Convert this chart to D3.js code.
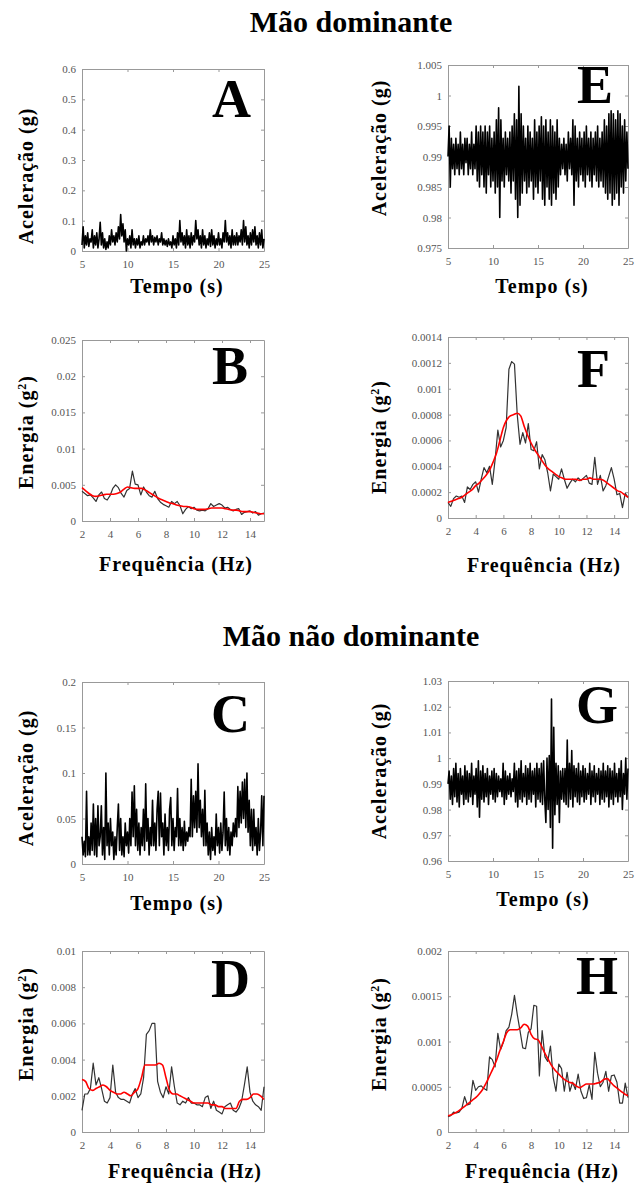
<!DOCTYPE html>
<html>
<head>
<meta charset="utf-8">
<script src="https://cdnjs.cloudflare.com/ajax/libs/d3/7.8.5/d3.min.js"></script>
<style>
  body { margin: 0; background: #fff; }
  text { font-family: "Liberation Serif", "Times New Roman", serif; }
  .tick text { font-size: 11px; fill: #555; }
  .tick line, .domain { stroke: #999; }
  .lab { font-weight: bold; font-size: 20px; letter-spacing: 1px; fill: #000; }
  .big { font-weight: bold; font-size: 54px; fill: #000; }
  .title { font-weight: bold; font-size: 30px; fill: #000; }
</style>
</head>
<body>
<svg id="chart" width="635" height="1184"></svg>
<script>
"use strict";

// sampling grids (seconds / Hz)
var timeStart = 5, timeStep = 0.125;
var rawFreqStep = 0.2, smoothFreqStep = 0.25;

var timeTicks = [5, 10, 15, 20, 25];
var freqTicks = [2, 4, 6, 8, 10, 12, 14];

var ticksA = [0, 0.1, 0.2, 0.3, 0.4, 0.5, 0.6];
var ticksE = [0.975, 0.98, 0.985, 0.99, 0.995, 1, 1.005];
var ticksB = [0, 0.005, 0.01, 0.015, 0.02, 0.025];
var ticksF = [0, 0.0002, 0.0004, 0.0006, 0.0008, 0.001, 0.0012, 0.0014];
var ticksC = [0, 0.05, 0.1, 0.15, 0.2];
var ticksG = [0.96, 0.97, 0.98, 0.99, 1, 1.01, 1.02, 1.03];
var ticksD = [0, 0.002, 0.004, 0.006, 0.008, 0.01];
var ticksH = [0, 0.0005, 0.001, 0.0015, 0.002];

// acceleration, dominant hand
var accelA = [
  0.02,0.08,0.01,0.05,0.02,0.06,0.015,0.04,
  0.03,0.07,0.01,0.05,0.02,0.06,0.01,0.04,
  0.095,0.02,0.06,0.01,0.04,0.005,0.03,0.01,
  0.05,0.02,0.07,0.03,0.05,0.02,0.06,0.03,
  0.08,0.04,0.12,0.05,0.09,0.03,0.07,0.0,
  0.04,0.02,0.05,0.01,0.07,0.02,0.04,0.01,
  0.04,0.02,0.05,0.01,0.03,0.02,0.05,0.02,
  0.04,0.03,0.05,0.02,0.07,0.03,0.05,0.02,
  0.045,0.03,0.05,0.02,0.04,0.03,0.06,0.02,
  0.04,0.02,0.035,0.015,0.04,0.02,0.03,0.01,
  0.05,0.02,0.04,0.01,0.06,0.02,0.1,0.03,
  0.06,0.02,0.05,0.01,0.07,0.02,0.05,0.01,
  0.06,0.02,0.05,0.03,0.1,0.04,0.07,0.02,
  0.05,0.01,0.07,0.02,0.05,0.01,0.04,0.02,
  0.06,0.015,0.07,0.02,0.05,0.01,0.04,0.02,
  0.06,0.02,0.04,0.01,0.06,0.03,0.1,0.03,
  0.06,0.02,0.05,0.01,0.07,0.02,0.05,0.02,
  0.06,0.02,0.05,0.03,0.07,0.02,0.1,0.03,
  0.08,0.02,0.05,0.01,0.06,0.02,0.07,0.03,
  0.08,0.02,0.05,0.01,0.06,0.02,0.07,0.01,
  0.04
];

var accelE = [
  0.990,0.995,0.985,0.993,0.988,0.992,0.987,0.993,
  0.988,0.992,0.987,0.994,0.988,0.992,0.987,0.993,
  0.989,0.993,0.987,0.992,0.988,0.994,0.987,0.992,
  0.988,0.995,0.986,0.994,0.985,0.995,0.987,0.994,
  0.985,0.995,0.984,0.994,0.987,0.995,0.985,0.993,
  0.986,0.994,0.984,0.996,0.985,0.998,0.980,0.996,
  0.986,0.993,0.985,0.994,0.987,0.993,0.986,0.994,
  0.984,0.995,0.986,0.997,0.983,0.996,0.980,1.0015,
  0.982,0.997,0.984,0.995,0.986,0.993,0.984,0.995,
  0.985,0.994,0.986,0.993,0.983,0.996,0.985,0.994,
  0.984,0.995,0.986,0.9965,0.983,0.995,0.982,0.996,
  0.985,0.994,0.983,0.996,0.982,0.995,0.984,0.994,
  0.983,0.996,0.985,0.993,0.987,0.992,0.988,0.993,
  0.987,0.992,0.986,0.994,0.988,0.993,0.987,0.996,
  0.982,0.995,0.986,0.993,0.985,0.994,0.987,0.993,
  0.986,0.994,0.985,0.995,0.987,0.993,0.986,0.994,
  0.985,0.993,0.987,0.994,0.986,0.995,0.985,0.993,
  0.986,0.994,0.985,0.996,0.984,0.995,0.983,0.997,
  0.984,0.9975,0.982,0.997,0.983,0.996,0.984,0.9975,
  0.982,0.997,0.985,0.995,0.984,0.996,0.986,0.994,
  0.988
];

// acceleration, non-dominant hand
var accelC = [
  0.03,0.01,0.025,0.008,0.08,0.01,0.03,0.01,
  0.045,0.015,0.066,0.01,0.05,0.008,0.064,0.02,
  0.03,0.064,0.01,0.04,0.005,0.1,0.02,0.045,
  0.01,0.05,0.02,0.035,0.005,0.03,0.01,0.04,
  0.066,0.015,0.05,0.01,0.03,0.008,0.045,0.02,
  0.035,0.012,0.05,0.02,0.079,0.03,0.086,0.02,
  0.06,0.015,0.045,0.01,0.04,0.02,0.06,0.015,
  0.088,0.025,0.05,0.01,0.04,0.02,0.07,0.02,
  0.045,0.015,0.06,0.08,0.02,0.078,0.03,0.045,
  0.01,0.055,0.02,0.04,0.015,0.06,0.073,0.02,
  0.05,0.015,0.04,0.03,0.083,0.02,0.05,0.02,
  0.04,0.015,0.047,0.02,0.035,0.025,0.04,0.03,
  0.093,0.03,0.075,0.04,0.08,0.035,0.11,0.04,
  0.07,0.03,0.06,0.02,0.081,0.02,0.045,0.01,
  0.035,0.005,0.04,0.015,0.03,0.01,0.055,0.02,
  0.04,0.012,0.045,0.015,0.035,0.079,0.02,0.05,
  0.015,0.04,0.01,0.035,0.02,0.045,0.03,0.05,
  0.03,0.085,0.04,0.08,0.045,0.09,0.05,0.093,
  0.04,0.1,0.035,0.07,0.02,0.06,0.015,0.06,
  0.02,0.04,0.01,0.05,0.015,0.035,0.075,0.02,
  0.075
];

var accelG = [
  0.990,0.995,0.984,0.993,0.982,0.996,0.985,0.998,
  0.983,0.994,0.981,0.996,0.986,0.993,0.982,0.997,
  0.984,0.995,0.983,0.994,0.985,0.998,0.982,0.993,
  0.986,0.996,0.981,0.999,0.977,0.995,0.984,0.997,
  0.983,0.994,0.985,0.996,0.982,0.993,0.986,0.995,
  0.984,0.996,0.983,0.994,0.985,0.993,0.987,0.992,
  0.985,0.998,0.982,0.995,0.984,0.993,0.986,0.994,
  0.985,0.992,0.987,0.998,0.983,0.995,0.981,0.996,
  0.984,0.999,0.983,0.994,0.985,0.997,0.982,0.996,
  0.984,0.998,0.983,0.995,0.986,0.996,0.981,0.998,
  0.984,0.996,0.983,0.998,0.982,0.999,0.984,0.975,
  1.000,0.980,1.001,0.973,1.023,0.965,1.012,0.978,
  0.998,0.982,0.997,0.975,0.995,0.984,0.996,0.983,
  0.996,0.982,1.007,0.981,0.998,0.984,1.003,0.981,
  0.997,0.985,0.996,0.983,0.998,0.982,0.995,0.985,
  0.997,0.983,0.996,0.984,0.994,0.986,0.998,0.982,
  0.995,0.985,0.997,0.983,0.994,0.986,0.996,0.982,
  0.995,0.984,0.998,0.983,0.995,0.985,0.997,0.981,
  0.996,0.984,0.995,0.982,0.998,0.985,0.994,0.983,
  0.996,0.985,0.999,0.980,0.994,0.986,1.000,0.984,
  0.996
];

// power spectra (black = raw, red = smoothed)
var powerB = [
  0.0041,0.0038,0.0035,0.0036,0.0032,0.0027,0.0036,0.0040,0.0031,0.0029,
  0.0035,0.0045,0.0050,0.0046,0.0038,0.0033,0.0042,0.0045,0.0069,0.0051,
  0.0050,0.0036,0.0047,0.0040,0.0035,0.0033,0.0041,0.0031,0.0026,0.0023,
  0.0021,0.0019,0.0027,0.0024,0.0027,0.0021,0.0010,0.0016,0.0020,0.0017,
  0.0019,0.0015,0.0014,0.0015,0.0014,0.0017,0.0024,0.0020,0.0022,0.0024,
  0.0022,0.0018,0.0019,0.0016,0.0014,0.0016,0.0017,0.0009,0.0012,0.0013,
  0.0014,0.0011,0.0013,0.0008,0.0010,0.0011
];
var smoothB = [
  0.0046,0.0042,0.0038,0.0035,0.0034,0.0035,0.0036,0.0037,
  0.0037,0.0037,0.0038,0.0040,0.0044,0.0047,0.0046,0.0045,
  0.0045,0.0045,0.0043,0.0040,0.0037,0.0034,0.0031,0.0029,
  0.0027,0.0025,0.0024,0.0022,0.0021,0.0020,0.0020,0.0019,
  0.0017,0.0016,0.0016,0.0016,0.0017,0.0018,0.0018,0.0018,
  0.0018,0.0017,0.0016,0.0015,0.0015,0.0014,0.0013,0.0013,
  0.0013,0.0012,0.0011,0.0010,0.0010
];

var powerF = [
  0.00012,0.00009,0.00015,0.00017,0.00016,0.00017,0.00012,0.00024,0.00022,0.00026,
  0.00028,0.00020,0.00030,0.00039,0.00035,0.00040,0.00026,0.00045,0.00068,0.00055,
  0.00060,0.00070,0.00115,0.00121,0.00119,0.00080,0.00057,0.00066,0.00058,0.00073,
  0.00053,0.00052,0.00059,0.00038,0.00049,0.00045,0.00035,0.00021,0.00034,0.00032,
  0.00030,0.00038,0.00030,0.00023,0.00027,0.00030,0.00028,0.00031,0.00029,0.00031,
  0.00033,0.00027,0.00026,0.00047,0.00026,0.00033,0.00021,0.00025,0.00032,0.00039,
  0.00030,0.00018,0.00019,0.00008,0.00019,0.00016
];
var smoothF = [
  0.00012,0.00013,0.00014,0.00015,0.00016,0.00018,0.00020,0.00022,
  0.00025,0.00027,0.00030,0.00033,0.00037,0.00043,0.00050,0.00060,
  0.00070,0.00076,0.00079,0.00080,0.00081,0.00079,0.00071,0.00064,
  0.00058,0.00053,0.00049,0.00045,0.00041,0.00038,0.00036,0.00034,
  0.00032,0.00031,0.00030,0.00030,0.00030,0.00030,0.00029,0.00030,
  0.00030,0.00031,0.00030,0.00030,0.00030,0.00029,0.00027,0.00025,
  0.00023,0.00021,0.00020,0.00018,0.00016
];

var powerD = [
  0.0012,0.0021,0.0021,0.0024,0.0038,0.0026,0.0030,0.0024,0.0017,0.0016,
  0.0019,0.0037,0.0022,0.0019,0.0018,0.0018,0.0017,0.0016,0.0021,0.0024,
  0.0019,0.0021,0.0030,0.0054,0.0056,0.0060,0.0060,0.0028,0.0022,0.0019,
  0.0025,0.0021,0.0036,0.0025,0.0016,0.0015,0.0017,0.0016,0.0019,0.0016,
  0.0016,0.0015,0.0015,0.0014,0.0019,0.0020,0.0013,0.0017,0.0012,0.0011,
  0.0010,0.0014,0.0015,0.0016,0.0012,0.0011,0.0013,0.0017,0.0026,0.0036,
  0.0022,0.0017,0.0015,0.0014,0.0012,0.0025
];
var smoothD = [
  0.0029,0.0028,0.0024,0.0023,0.0024,0.0025,0.0026,0.0025,
  0.0023,0.0022,0.0021,0.0021,0.0022,0.0021,0.0020,0.0022,
  0.0024,0.0030,0.0037,0.0037,0.0037,0.0037,0.0038,0.0037,
  0.0030,0.0023,0.0021,0.0021,0.0020,0.0019,0.0018,0.0017,
  0.0016,0.0016,0.0016,0.0016,0.0016,0.0015,0.0015,0.0014,
  0.0014,0.0013,0.0013,0.0013,0.0013,0.0017,0.0018,0.0018,
  0.0019,0.0021,0.0021,0.0020,0.0018
];

var powerH = [
  0.00017,0.00018,0.00022,0.00021,0.00022,0.00026,0.00039,0.00030,0.00031,0.00057,
  0.00046,0.00050,0.00051,0.00048,0.00046,0.00083,0.00080,0.00072,0.00109,0.00091,
  0.00099,0.00112,0.00116,0.00130,0.00151,0.00130,0.00112,0.00093,0.00092,0.00110,
  0.00114,0.00140,0.00139,0.00062,0.00112,0.00083,0.00078,0.00095,0.00060,0.00045,
  0.00075,0.00070,0.00045,0.00066,0.00045,0.00055,0.00047,0.00064,0.00045,0.00037,
  0.00038,0.00052,0.00036,0.00088,0.00065,0.00050,0.00055,0.00067,0.00045,0.00062,
  0.00063,0.00055,0.00032,0.00032,0.00054,0.00038
];
var smoothH = [
  0.00018,0.00019,0.00021,0.00023,0.00026,0.00029,0.00032,0.00035,
  0.00038,0.00042,0.00047,0.00054,0.00062,0.00070,0.00079,0.00090,
  0.00100,0.00110,0.00113,0.00113,0.00113,0.00115,0.00119,0.00117,
  0.00108,0.00103,0.00102,0.00095,0.00087,0.00080,0.00073,0.00068,
  0.00064,0.00060,0.00057,0.00055,0.00054,0.00051,0.00049,0.00051,
  0.00053,0.00053,0.00053,0.00054,0.00055,0.00058,0.00059,0.00055,
  0.00051,0.00048,0.00045,0.00042,0.00040
];

var titles = ["Mão dominante", "Mão não dominante"];

var svg = d3.select("#chart");

// layout: box edges, axis-label anchors, panel letter offset
var L = [82, 264], R = [448, 628];
var panels = [
  { id: "A", kind: "time", raw: accelA, yDomain: [0, 0.6], yTicks: ticksA,
    x: L, y: [69, 251], xl: [177, 293], yl: [33, 176], let: [-13, 48] },
  { id: "E", kind: "time", raw: accelE, yDomain: [0.975, 1.005], yTicks: ticksE,
    x: R, y: [65, 248], xl: [542, 293], yl: [386, 148], let: [-15, 38] },
  { id: "B", kind: "freq", raw: powerB, smooth: smoothB, yDomain: [0, 0.025], yTicks: ticksB,
    x: L, y: [340, 521], xl: [176, 571], yl: [33, 432], let: [-16, 44] },
  { id: "F", kind: "freq", raw: powerF, smooth: smoothF, yDomain: [0, 0.0014], yTicks: ticksF,
    x: R, y: [337, 518], xl: [544, 572], yl: [386, 437], let: [-18, 50] },
  { id: "C", kind: "time", raw: accelC, yDomain: [0, 0.2], yTicks: ticksC,
    x: L, y: [682, 864], xl: [177, 910], yl: [33, 778], let: [-14, 50] },
  { id: "G", kind: "time", raw: accelG, yDomain: [0.96, 1.03], yTicks: ticksG,
    x: R, y: [681, 861], xl: [543, 906], yl: [386, 771], let: [-10, 42] },
  { id: "D", kind: "freq", raw: powerD, smooth: smoothD, yDomain: [0, 0.01], yTicks: ticksD,
    x: L, y: [951, 1132], xl: [185, 1178], yl: [33, 1024], let: [-14, 46] },
  { id: "H", kind: "freq", raw: powerH, smooth: smoothH, yDomain: [0, 0.002], yTicks: ticksH,
    x: R, y: [951, 1132], xl: [542, 1178], yl: [386, 1034], let: [-10, 43] }
];

svg.append("text").attr("class", "title").attr("x", 351).attr("y", 32)
  .attr("text-anchor", "middle").text(titles[0]);
svg.append("text").attr("class", "title").attr("x", 351).attr("y", 646)
  .attr("text-anchor", "middle").text(titles[1]);

panels.forEach(drawPanel);

function drawPanel(p) {
  var isTime = p.kind == "time";
  var xDomain = isTime ? [5, 25] : [2, 15];
  var xTicks = isTime ? timeTicks : freqTicks;

  var x = d3.scaleLinear().domain(xDomain).range(p.x);
  var y = d3.scaleLinear().domain(p.yDomain).range([p.y[1], p.y[0]]);
  var g = svg.append("g");

  // matlab style box: inward ticks on all four sides
  g.append("g").attr("transform", "translate(0," + p.y[1] + ")")
    .call(d3.axisBottom(x).tickValues(xTicks).tickSizeInner(-3).tickSizeOuter(0)
      .tickPadding(9).tickFormat(String));
  g.append("g").attr("transform", "translate(0," + p.y[0] + ")")
    .call(d3.axisTop(x).tickValues(xTicks).tickSizeInner(-3).tickSizeOuter(0).tickFormat(""));
  g.append("g").attr("transform", "translate(" + p.x[0] + ",0)")
    .call(d3.axisLeft(y).tickValues(p.yTicks).tickSizeInner(-3).tickSizeOuter(0)
      .tickPadding(6).tickFormat(String));
  g.append("g").attr("transform", "translate(" + p.x[1] + ",0)")
    .call(d3.axisRight(y).tickValues(p.yTicks).tickSizeInner(-3).tickSizeOuter(0).tickFormat(""));

  var step = isTime ? timeStep : rawFreqStep;
  var start = isTime ? timeStart : 2;
  var line = d3.line()
    .x(function (d, i) { return x(start + i * step); })
    .y(function (d) { return y(d); });

  // the recorded signal is dense, a heavier stroke gives the black band
  g.append("path").datum(p.raw)
    .attr("d", line)
    .attr("fill", "none")
    .attr("stroke", isTime ? "#000" : "#333")
    .attr("stroke-width", isTime ? 1.6 : 1.2)
    .attr("stroke-linejoin", "round");

  if (p.smooth) {
    var smoothLine = d3.line()
      .x(function (d, i) { return x(2 + i * smoothFreqStep); })
      .y(function (d) { return y(d); })
      .curve(d3.curveMonotoneX);
    g.append("path").datum(p.smooth)
      .attr("d", smoothLine)
      .attr("fill", "none")
      .attr("stroke", "#f00")
      .attr("stroke-width", 1.6);
  }

  // panel letter
  g.append("text").attr("class", "big")
    .attr("x", p.x[1] + p.let[0]).attr("y", p.y[0] + p.let[1])
    .attr("text-anchor", "end").text(p.id);

  // axis titles
  g.append("text").attr("class", "lab")
    .attr("x", p.xl[0]).attr("y", p.xl[1])
    .attr("text-anchor", "middle")
    .text(isTime ? "Tempo (s)" : "Frequência (Hz)");

  var yl = g.append("text").attr("class", "lab")
    .attr("transform", "translate(" + p.yl[0] + "," + p.yl[1] + ") rotate(-90)")
    .attr("text-anchor", "middle");
  if (isTime) {
    yl.text("Aceleração (g)");
  } else {
    yl.append("tspan").text("Energia (g");
    yl.append("tspan").attr("font-size", "12px").attr("dy", "-7").text("2");
    yl.append("tspan").attr("dy", "7").text(")");
  }
}
</script>
</body>
</html>
